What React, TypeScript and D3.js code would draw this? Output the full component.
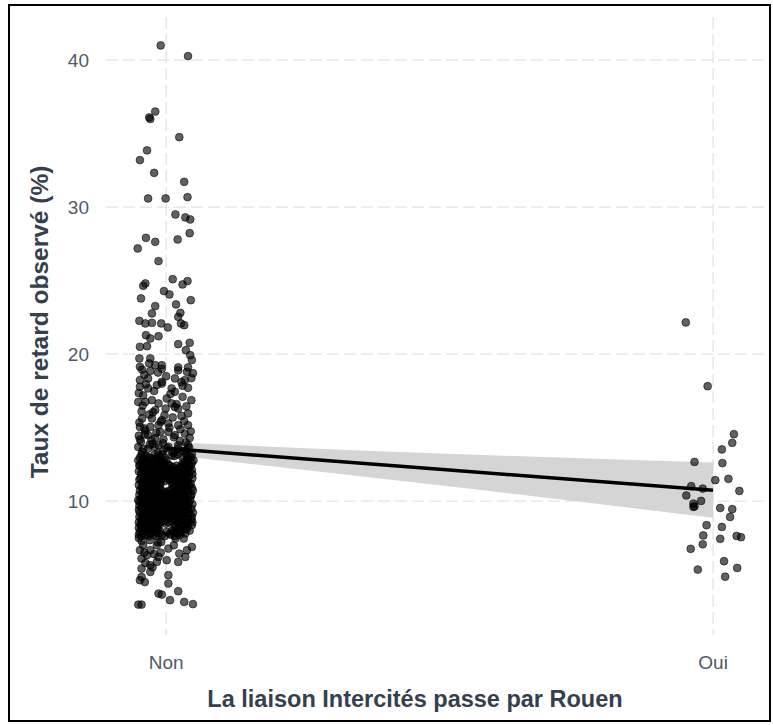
import React from "react";
import * as d3 from "d3";

// ---------- data ----------
const categories = ["Non", "Oui"];
const categoryPos = [1, 2];
const yTicks = [10, 20, 30, 40];

// Non group: sparse points (jittered x, value)
const nonSparseX = [
  0.990, 1.040, 0.980, 0.969, 0.971, 1.024, 0.965, 0.952, 0.978, 1.033,
  0.967, 0.999, 1.039, 1.017, 1.035, 1.044, 1.043, 0.963, 0.980, 1.021,
  0.948, 0.986, 0.958, 0.962, 1.012, 1.030, 1.039, 0.996, 1.006, 0.954,
  1.045, 0.980, 1.018, 0.974, 1.026, 1.022, 0.951, 0.962, 0.974, 0.991,
  1.003, 1.027, 1.033, 0.963, 0.971, 0.986, 0.952, 0.965, 1.022, 1.043,
  1.036, 1.044, 0.951, 0.971, 0.969, 0.980, 0.992, 0.952, 1.022, 1.040,
  1.047,
  0.956, 0.971, 0.992, 1.022, 1.038, 1.049, 0.985, 0.952, 0.967, 0.992,
  1.016, 1.034, 1.046, 0.952, 0.967, 1.010, 1.040, 1.016, 0.992, 1.046,
  0.949, 0.962, 0.974, 0.986, 1.001, 1.010, 1.016, 0.999, 1.022, 1.040,
  0.956, 0.974, 0.992, 0.952, 0.971, 0.986, 1.004, 1.022, 1.040, 0.967,
  1.004, 1.016, 1.034, 0.989, 0.949, 0.967, 0.986, 1.004, 1.022, 1.040,
  0.956, 0.994, 1.016, 1.035,
  0.960, 1.000, 1.028, 0.978, 0.958, 1.030, 0.980, 0.955, 1.028, 0.962,
  0.980, 0.995, 1.025, 0.952, 1.043, 0.975, 1.010, 0.965,
  0.950, 0.963, 0.983, 1.008, 1.030, 0.957, 0.976, 0.997, 1.019, 1.037,
  0.951, 0.969, 0.990, 1.012, 1.033, 0.960, 0.982, 1.006, 1.026, 1.045,
  0.954, 0.973, 0.994, 1.014, 1.036, 0.958, 0.979, 1.001, 1.021, 1.042,
  0.950, 0.970, 1.012, 1.047, 0.961, 0.985, 1.031,
];
const nonSparseY = [
  41.0, 40.27, 36.5, 36.1, 36.0, 34.76, 33.86, 33.2, 32.33, 31.72,
  30.59, 30.59, 30.68, 29.5, 29.3, 29.16, 28.23, 27.91, 27.64, 27.8,
  27.19, 26.33, 24.65, 24.81, 25.1, 24.74, 24.97, 24.29, 24.06, 23.79,
  23.67, 23.27, 23.38, 22.77, 22.81, 22.54, 22.27, 22.09, 22.13, 22.09,
  21.82, 22.09, 21.97, 21.29, 21.07, 21.22, 20.5, 20.54, 20.68, 20.77,
  20.27, 19.93, 19.71, 19.71, 19.37, 19.25, 19.25, 19.14, 19.1, 19.1,
  19.6,
  18.95, 18.85, 19.0, 18.9, 18.8, 18.7, 18.75, 18.23, 18.35, 18.12,
  18.35, 18.23, 18.37, 17.78, 17.67, 17.67, 17.71, 17.44, 18.0, 16.87,
  16.75, 16.75, 16.87, 16.65, 16.99, 16.65, 16.41, 16.3, 16.3, 15.97,
  15.63, 15.63, 15.51, 15.05, 15.05, 15.17, 15.29, 15.17, 15.17, 14.49,
  14.71, 14.49, 14.6, 14.71, 13.69, 13.58, 13.81, 13.69, 13.81, 13.81,
  13.35, 13.4, 13.35, 13.45,
  18.6, 18.5, 18.1, 17.5, 17.2, 17.1, 16.2, 16.1, 15.8, 14.8,
  14.3, 14.2, 14.1, 14.2, 14.3, 13.9, 13.1, 13.05,
  17.35, 17.95, 17.9, 17.3, 17.85, 16.5, 16.05, 15.85, 16.6, 16.45,
  15.35, 15.9, 15.4, 15.7, 15.45, 14.95, 14.65, 15.0, 14.9, 14.75,
  14.05, 14.15, 13.95, 14.35, 14.0, 13.55, 13.7, 13.6, 13.55, 13.65,
  14.45, 13.85, 13.3, 13.2, 14.55, 13.25, 13.4,
];

// Non group: dense core, rows of (value, jittered x positions)
const nonDenseValues = [
  13.18, 13.07, 12.97, 12.88, 12.78, 12.68, 12.59, 12.50, 12.41, 12.31,
  12.22, 12.12, 12.03, 11.94, 11.85, 11.75, 11.66, 11.56, 11.47, 11.38,
  11.29, 11.19, 11.10, 11.01, 10.91, 10.82, 10.72, 10.63, 10.54, 10.44,
  10.35, 10.25, 10.16, 10.07, 9.97, 9.88, 9.79, 9.69, 9.60, 9.50,
  9.41, 9.32, 9.22, 9.13, 9.04, 8.94, 8.85, 8.76, 8.66, 8.57,
  8.47, 8.38, 8.29, 8.19, 8.10, 8.00, 7.91, 7.81, 7.72, 7.62,
];
const nonDenseX = [
  [0.955, 0.979, 0.993, 1.021, 1.037],
  [0.962, 0.987, 1.015, 1.043],
  [0.952, 0.970, 0.984, 0.997, 1.030, 1.046],
  [0.958, 0.976, 0.990, 1.039],
  [0.949, 0.962, 0.977, 0.990, 1.000, 1.040, 1.050],
  [0.956, 0.968, 0.982, 0.994, 1.033],
  [0.958, 0.972, 0.986, 0.996, 1.036, 1.047],
  [0.952, 0.965, 0.979, 0.992, 1.004, 1.029, 1.042],
  [0.951, 0.965, 0.980, 0.993, 1.007, 1.019, 1.033, 1.045],
  [0.957, 0.972, 0.987, 1.000, 1.013, 1.026, 1.040],
  [0.956, 0.969, 0.983, 0.998, 1.011, 1.025, 1.039],
  [0.962, 0.976, 0.990, 1.004, 1.018, 1.032, 1.047],
  [0.950, 0.963, 0.976, 0.989, 1.003, 1.016, 1.029, 1.043],
  [0.957, 0.970, 0.984, 0.997, 1.010, 1.023, 1.037],
  [0.954, 0.968, 0.982, 0.995, 1.008, 1.022, 1.036, 1.048],
  [0.961, 0.975, 0.989, 1.002, 1.015, 1.029],
  [0.959, 0.972, 0.986, 1.000, 1.013, 1.027, 1.041],
  [0.953, 0.966, 0.979, 0.993, 1.006, 1.020, 1.034, 1.048],
  [0.951, 0.964, 0.978, 0.991, 1.005, 1.018, 1.032],
  [0.958, 0.971, 0.985, 0.998, 1.012, 1.025, 1.039],
  [0.956, 0.970, 0.984, 1.010, 1.024, 1.038],
  [0.963, 0.977, 0.990, 1.017, 1.031, 1.045],
  [0.950, 0.962, 0.975, 0.988, 1.012, 1.028, 1.042],
  [0.956, 0.969, 0.982, 1.019, 1.035],
  [0.955, 0.968, 0.981, 1.015, 1.031, 1.047],
  [0.962, 0.975, 0.988, 1.010, 1.024, 1.039],
  [0.952, 0.966, 0.979, 0.992, 1.006, 1.020, 1.035, 1.049],
  [0.958, 0.972, 0.986, 0.999, 1.013, 1.027],
  [0.957, 0.971, 0.985, 0.998, 1.011, 1.025, 1.040],
  [0.951, 0.964, 0.978, 0.992, 1.005, 1.018, 1.032, 1.046],
  [0.960, 0.977, 0.990, 1.004, 1.018, 1.032, 1.045],
  [0.956, 0.970, 0.984, 0.997, 1.011, 1.025],
  [0.954, 0.968, 0.982, 0.996, 1.009, 1.023, 1.037],
  [0.949, 0.961, 0.975, 0.989, 1.002, 1.016, 1.030, 1.044],
  [0.951, 0.965, 0.979, 0.993, 1.007, 1.021, 1.034],
  [0.957, 0.972, 0.986, 1.000, 1.014, 1.028, 1.041],
  [0.963, 0.976, 0.990, 1.004, 1.018, 1.032, 1.048],
  [0.951, 0.965, 0.979, 0.993, 1.007, 1.021, 1.035],
  [0.955, 0.968, 0.982, 0.995, 1.009, 1.023, 1.040],
  [0.956, 0.970, 0.984, 0.998, 1.012, 1.026, 1.046],
  [0.950, 0.969, 0.983, 0.997, 1.011, 1.025, 1.039],
  [0.960, 0.976, 0.990, 1.004, 1.018, 1.032],
  [0.952, 0.966, 0.980, 0.994, 1.008, 1.022, 1.036, 1.049],
  [0.958, 0.973, 0.987, 1.001, 1.015, 1.029, 1.043],
  [0.957, 0.971, 0.985, 0.999, 1.013, 1.027],
  [0.951, 0.964, 0.978, 0.992, 1.006, 1.020, 1.034, 1.047],
  [0.955, 0.970, 0.984, 0.998, 1.012, 1.026, 1.040],
  [0.961, 0.975, 0.989, 1.003, 1.017, 1.031, 1.046],
  [0.955, 0.969, 0.983, 0.997, 1.011, 1.030],
  [0.950, 0.962, 0.976, 0.990, 1.004, 1.021, 1.037, 1.048],
  [0.958, 0.972, 0.986, 1.000, 1.024, 1.040],
  [0.953, 0.967, 0.981, 1.017, 1.033, 1.047],
  [0.957, 0.972, 0.986, 1.015, 1.031],
  [0.950, 0.962, 0.976, 1.023, 1.039],
  [0.955, 0.969, 0.984, 1.020, 1.036],
  [0.960, 0.974, 0.988, 1.011, 1.027, 1.043],
  [0.952, 0.966, 0.981, 1.001, 1.014, 1.028],
  [0.957, 0.971, 0.986, 1.007, 1.021, 1.035],
  [0.950, 0.963, 0.977, 0.992, 1.008, 1.025],
  [0.955, 0.968, 0.982, 0.997, 1.016],
];

// Non group: low tail
const nonLowX = [
  0.950, 0.955, 0.970, 0.985, 0.960, 0.978, 0.990, 0.975, 0.962,
  0.952, 0.955, 0.965, 0.971, 0.983, 0.986, 0.971, 0.983, 0.958, 0.971,
  0.955, 0.955, 1.001, 1.004, 1.017, 1.032, 1.014, 1.024, 1.038, 1.047,
  1.035, 1.022, 0.991, 1.004, 1.004, 0.986, 0.992, 1.007, 1.022, 1.033,
  1.049, 0.949, 0.955, 0.952, 0.961,
];
const nonLowY = [
  7.5, 7.3, 7.35, 7.2, 6.5, 6.4, 6.5, 5.5, 5.8,
  6.67, 6.1, 6.33, 5.65, 5.87, 6.21, 6.67, 7.0, 7.0, 5.19,
  5.42, 4.85, 5.99, 6.78, 7.46, 7.46, 7.0, 6.44, 6.67, 6.89,
  6.21, 5.87, 7.23, 4.97, 4.40, 3.72, 3.65, 3.27, 3.88, 3.15,
  3.0, 2.97, 2.97, 4.63, 4.5,
];

// Oui group
const ouiX = [
  1.950, 1.990, 2.038, 2.035, 2.016, 1.966, 2.017, 2.004, 2.028, 2.048,
  1.960, 1.981, 1.951, 1.978, 1.964, 1.964, 1.966, 2.013, 2.035, 2.031,
  1.988, 2.016, 1.982, 2.013, 2.043, 2.051, 1.981, 1.959, 2.020, 2.044,
  1.972, 2.022,
];
const ouiY = [
  22.16, 17.82, 14.56, 13.97, 13.52, 12.67, 12.59, 11.43, 11.52, 10.70,
  11.02, 10.86, 10.39, 10.02, 9.84, 9.61, 9.65, 9.54, 9.46, 8.93,
  8.37, 8.25, 7.67, 7.44, 7.64, 7.55, 7.07, 6.76, 5.92, 5.46,
  5.35, 4.87,
];

// linear fit with confidence band
const fitX = [1, 1.5, 2];
const fitY = [13.6, 12.17, 10.75];
const fitLow = [13.18, 11.09, 8.87];
const fitHigh = [14.02, 13.25, 12.63];

// ---------- chart ----------
const W = 773;
const H = 725;
const panel = { left: 106, right: 770, top: 17, bottom: 635 };

export default function App() {
  const x = d3.scaleLinear().domain([0.89, 2.104]).range([panel.left, panel.right]);
  const y = d3.scaleLinear().domain([0.9, 42.93]).range([panel.bottom, panel.top]);

  const points: { x: number; y: number }[] = [];
  nonSparseX.forEach((v, i) => points.push({ x: v, y: nonSparseY[i] }));
  nonDenseValues.forEach((val, r) => nonDenseX[r].forEach((xv) => points.push({ x: xv, y: val })));
  nonLowX.forEach((v, i) => points.push({ x: v, y: nonLowY[i] }));
  ouiX.forEach((v, i) => points.push({ x: v, y: ouiY[i] }));

  const fit = fitX.map((v, i) => ({ x: v, y: fitY[i], lo: fitLow[i], hi: fitHigh[i] }));
  const area = d3
    .area<{ x: number; lo: number; hi: number }>()
    .x((d) => x(d.x))
    .y0((d) => y(d.lo))
    .y1((d) => y(d.hi))
    .curve(d3.curveMonotoneX);
  const line = d3
    .line<{ x: number; y: number }>()
    .x((d) => x(d.x))
    .y((d) => y(d.y));

  const font = "'Liberation Sans', Arial, sans-serif";
  const tickColor = "#4f5a68";
  const titleColor = "#34404e";

  return (
    <svg
      width={W}
      height={H}
      style={{ position: "absolute", left: 0, top: 0, background: "#fff" }}
      fontFamily={font}
    >
      <defs>
        <clipPath id="clipP">
          <rect x={10} y={6} width={759} height={714} />
        </clipPath>
      </defs>
      <rect x={0} y={0} width={W} height={H} fill="#fff" />
      <g clipPath="url(#clipP)">
        {yTicks.map((t) => (
          <line
            key={"h" + t}
            x1={panel.left}
            x2={panel.right + 10}
            y1={y(t)}
            y2={y(t)}
            stroke="#e3e3e3"
            strokeWidth={1.3}
            strokeDasharray="12 5"
          />
        ))}
        {categoryPos.map((c) => (
          <line
            key={"v" + c}
            x1={x(c)}
            x2={x(c)}
            y1={panel.top}
            y2={panel.bottom}
            stroke="#e3e3e3"
            strokeWidth={1.3}
            strokeDasharray="12 5"
          />
        ))}
        <path d={area(fit) || ""} fill="#d5d5d5" />
        <path d={line(fit) || ""} fill="none" stroke="#000" strokeWidth={3.5} />
        {points.map((p, i) => (
          <circle
            key={i}
            cx={x(p.x)}
            cy={y(p.y)}
            r={3.9}
            fill="rgba(0,0,0,0.62)"
            stroke="rgba(0,0,0,0.55)"
            strokeWidth={1}
          />
        ))}
      </g>
      {yTicks.map((t) => (
        <text
          key={"yt" + t}
          x={89}
          y={y(t)}
          dy="0.36em"
          textAnchor="end"
          fontSize={19}
          fill={tickColor}
        >
          {t}
        </text>
      ))}
      {categories.map((c, i) => (
        <text
          key={"xt" + c}
          x={x(categoryPos[i])}
          y={669}
          textAnchor="middle"
          fontSize={19}
          fill={tickColor}
        >
          {c}
        </text>
      ))}
      <text
        x={415}
        y={707}
        textAnchor="middle"
        fontSize={23.5}
        fontWeight="bold"
        fill={titleColor}
      >
        La liaison Intercités passe par Rouen
      </text>
      <text
        transform={`translate(48, 322) rotate(-90)`}
        textAnchor="middle"
        fontSize={24.5}
        fontWeight="bold"
        fill={titleColor}
      >
        Taux de retard observé (%)
      </text>
      <rect x={9} y={5} width={761} height={716} fill="none" stroke="#000" strokeWidth={2} />
    </svg>
  );
}
